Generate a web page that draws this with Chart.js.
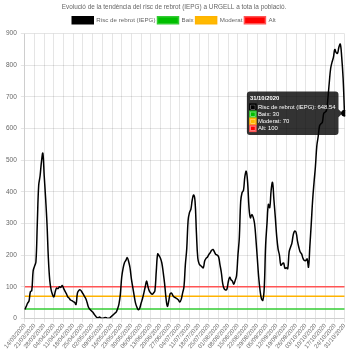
<!DOCTYPE html>
<html>
<head>
<meta charset="utf-8">
<script src="https://cdn.jsdelivr.net/npm/chart.js@4/dist/chart.umd.min.js"></script>
<style>
  html, body { margin: 0; padding: 0; background: #fff; }
  #box { width: 350px; height: 350px; }
</style>
</head>
<body>
<div id="box"><canvas id="chart" width="350" height="350"></canvas></div>
<script>
// dies: del 14/03/2020 al 31/10/2020
const startDate = new Date(2020, 2, 14);
const endDate = new Date(2020, 9, 31);

// risc de rebrot (IEPG), un valor per dia
const iepg = [
  28, 38, 48, 55, 84, 88, 150, 165, 178, 300,
  420, 450, 495, 522, 450, 380, 300, 190, 120, 90,
  75, 68, 85, 96, 94, 100, 98, 104, 95, 86,
  78, 68, 64, 58, 56, 53, 50, 44, 80, 88,
  90, 85, 78, 70, 63, 50, 35, 29, 24, 20,
  14, 8, 3, 2, 4, 1, 0, 1, 3, 2,
  0, 0, 4, 8, 12, 16, 20, 30, 45, 75,
  130, 158, 176, 183, 192, 180, 160, 125, 98, 72,
  48, 35, 27, 32, 48, 62, 80, 100, 118, 100,
  86, 80, 76, 80, 88, 150, 204, 198, 190, 175,
  145, 110, 65, 38, 55, 78, 80, 72, 67, 65,
  62, 58, 52, 60, 80, 100, 170, 220, 310, 335,
  345, 375, 390, 370, 270, 190, 172, 167, 163, 160,
  182, 190, 194, 202, 208, 215, 218, 210, 202, 200,
  195, 170, 145, 110, 94, 90, 92, 115, 130, 122,
  118, 108, 120, 135, 200, 255, 370, 398, 405, 448,
  465, 430, 350, 318, 328, 320, 300, 250, 190, 130,
  88, 62, 57, 95, 230, 300, 360, 350, 405, 430,
  375, 320, 260, 220, 200, 168, 172, 175, 158, 160,
  157, 210, 225, 238, 265, 276, 272, 245, 225, 210,
  204, 190, 183, 183, 188, 162, 230, 300, 375, 430,
  480, 545, 575, 609, 615, 620, 648, 652, 658, 695,
  745, 790, 810, 825, 850, 840, 838, 858, 867, 825,
  760, 648.54
];

// llindars
const baix = 30;
const moderat = 70;
const alt = 100;

const pad = (n) => String(n).padStart(2, '0');
const labels = [];
for (let d = new Date(startDate); d <= endDate; d.setDate(d.getDate() + 1)) {
  labels.push(pad(d.getDate()) + '/' + pad(d.getMonth() + 1) + '/' + d.getFullYear());
}

const flat = (v) => labels.map(() => v);

const thresholdLine = (label, value, color, border) => ({
  label: label,
  data: flat(value),
  borderColor: border,
  backgroundColor: color,
  borderWidth: 1.5,
  pointRadius: 0,
  pointHoverRadius: 0,
  fill: false
});

const font = (size, weight) => ({ family: 'Liberation Sans', size: size, weight: weight || 'normal' });

const ctx = document.getElementById('chart');

const chart = new Chart(ctx, {
  type: 'line',
  data: {
    labels: labels,
    datasets: [
      {
        label: 'Risc de rebrot (IEPG)',
        data: iepg,
        borderColor: '#000',
        backgroundColor: '#000',
        borderWidth: 1.5,
        pointRadius: 0,
        pointHoverRadius: 3,
        pointHoverBackgroundColor: '#000',
        pointHoverBorderColor: '#000',
        tension: 0.4,
        fill: false
      },
      thresholdLine('Baix', baix, '#00bf00', '#33cc33'),
      thresholdLine('Moderat', moderat, '#ffb900', '#ffb300'),
      thresholdLine('Alt', alt, '#ff0000', '#ff5555')
    ]
  },
  options: {
    responsive: false,
    animation: false,
    layout: { padding: { left: 2, right: 4, top: 0, bottom: 0 } },
    interaction: { mode: 'index', intersect: false },
    plugins: {
      title: {
        display: true,
        text: 'Evolució de la tendència del risc de rebrot (IEPG) a URGELL a tota la població.',
        color: '#666',
        font: font(6.4),
        padding: { top: 3, bottom: 4 }
      },
      legend: {
        labels: {
          boxWidth: 21,
          boxHeight: 7,
          padding: 2,
          color: '#666',
          font: font(6.2)
        }
      },
      tooltip: {
        position: 'nearest',
        backgroundColor: 'rgba(0,0,0,0.8)',
        titleFont: font(5.9, 'bold'),
        bodyFont: font(5.9),
        titleMarginBottom: 2,
        bodySpacing: 0,
        padding: 3,
        boxWidth: 6,
        boxHeight: 6,
        cornerRadius: 3,
        caretSize: 4
      }
    },
    scales: {
      x: {
        grid: { color: 'rgba(0,0,0,0.1)', tickLength: 4 },
        ticks: {
          autoSkip: false,
          maxRotation: 50,
          minRotation: 50,
          color: '#666',
          font: font(6),
          padding: 0,
          callback: function (value, index) {
            return index % 7 === 0 ? labels[index] : null;
          }
        }
      },
      y: {
        min: 0,
        max: 900,
        grid: { color: 'rgba(0,0,0,0.1)', tickLength: 4 },
        ticks: {
          stepSize: 100,
          color: '#666',
          font: font(6.5),
          padding: 4
        }
      }
    }
  }
});

// mostra el tooltip de l'últim dia
const last = labels.length - 1;
const active = chart.data.datasets.map((ds, i) => ({ datasetIndex: i, index: last }));
const pt = chart.getDatasetMeta(0).data[last];
chart.setActiveElements(active);
chart.tooltip.setActiveElements(active, { x: pt.x, y: pt.y });
chart.update();
</script>
</body>
</html>
